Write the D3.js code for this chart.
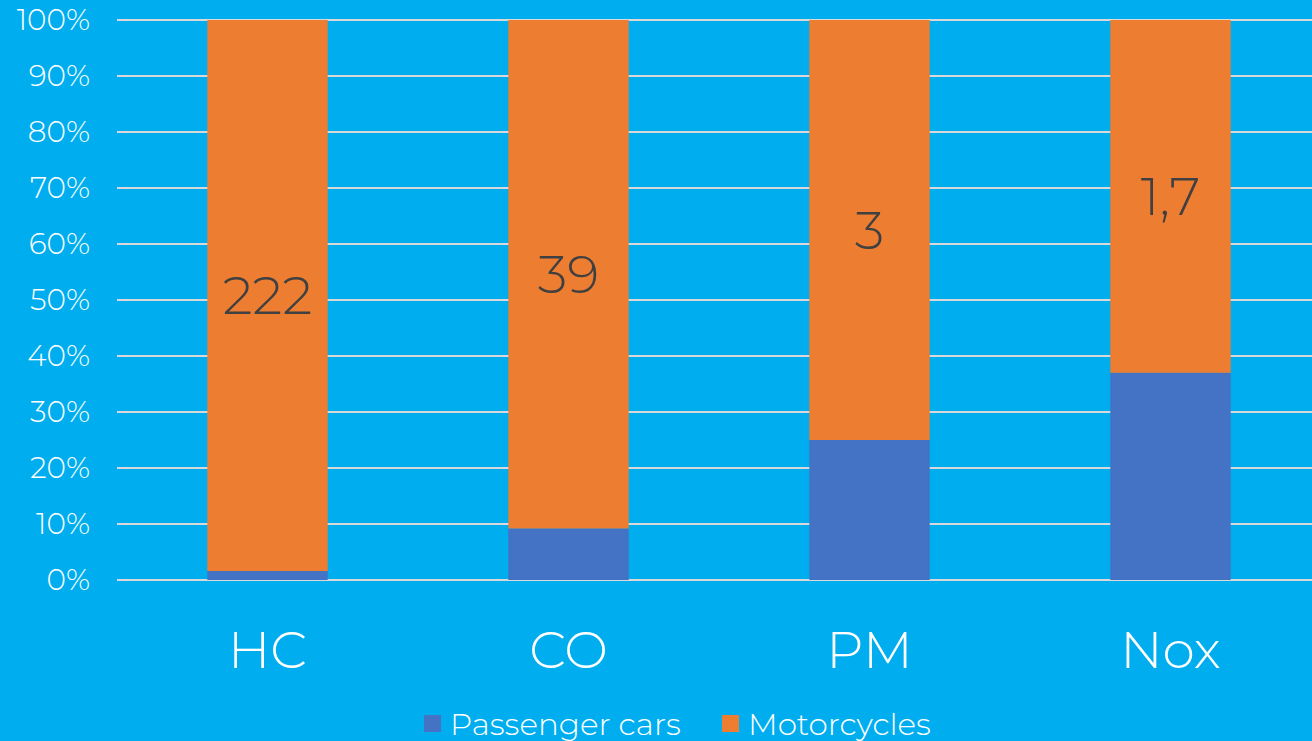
<!DOCTYPE html>
<html><head><meta charset="utf-8">
<script src="https://cdn.jsdelivr.net/npm/d3@7"></script>
<style>html,body{margin:0;padding:0;background:#00AEEF;}svg{display:block;}</style>
</head><body>
<script>
const categories = ["HC", "CO", "PM", "Nox"];
const passengerCars = [1.6, 9.2, 25, 37];
const motorcycles = [98.4, 90.8, 75, 63];
const ratioLabels = ["222", "39", "3", "1,7"];
const yTicks = [0, 10, 20, 30, 40, 50, 60, 70, 80, 90, 100];
const seriesNames = ["Passenger cars", "Motorcycles"];
const colors = ["#4472C4", "#ED7D31"];

const W = 1312, H = 741;
const svg = d3.select("body").append("svg").attr("width", W).attr("height", H);
svg.append("rect").attr("width", W).attr("height", H).attr("fill", "#00AEEF");

const font = "Montserrat, 'DejaVu Sans', sans-serif";
const x = d3.scaleBand().domain(categories).range([117, 1321]).paddingInner(0.6).paddingOuter(0.3);
const y = d3.scaleLinear().domain([0, 100]).range([580, 20]);

// gridlines
svg.append("g").selectAll("line").data(yTicks).join("line")
  .attr("x1", 117).attr("x2", W).attr("y1", d => y(d)).attr("y2", d => y(d))
  .attr("stroke", "#D9D9D9").attr("stroke-width", 2);

// y labels
svg.append("g").selectAll("text").data(yTicks).join("text")
  .attr("x", 90).attr("y", d => y(d)).attr("dy", "0.35em")
  .attr("text-anchor", "end").attr("fill", "#fff")
  .attr("font-family", font).attr("font-weight", 300).attr("font-size", 29.5)
  .text(d => d + "%");

const data = categories.map((c, i) => ({cat: c, pc: passengerCars[i], mc: motorcycles[i], lab: ratioLabels[i]}));
const stack = d3.stack().keys(["pc", "mc"])(data);

svg.append("g").selectAll("g").data(stack).join("g")
  .attr("fill", (d, i) => colors[i])
  .selectAll("rect").data(d => d).join("rect")
  .attr("x", d => x(d.data.cat)).attr("width", x.bandwidth())
  .attr("y", d => y(d[1])).attr("height", d => y(d[0]) - y(d[1]));

// data labels centered in motorcycle segment
svg.append("g").selectAll("text").data(stack[1]).join("text")
  .attr("x", d => x(d.data.cat) + x.bandwidth() / 2)
  .attr("y", d => y((d[0] + d[1]) / 2)).attr("dy", "0.35em")
  .attr("text-anchor", "middle").attr("fill", "#404040")
  .attr("font-family", font).attr("font-weight", 300).attr("font-size", 53)
  .text(d => d.data.lab);

// category labels
svg.append("g").selectAll("text").data(categories).join("text")
  .attr("x", d => x(d) + x.bandwidth() / 2).attr("y", 650).attr("dy", "0.35em")
  .attr("text-anchor", "middle").attr("fill", "#fff")
  .attr("font-family", font).attr("font-weight", 300).attr("font-size", 52)
  .text(d => d);

// legend
const legendItems = [{name: seriesNames[0], color: colors[0], x: 424}, {name: seriesNames[1], color: colors[1], x: 722}];
const lg = svg.append("g").selectAll("g").data(legendItems).join("g");
lg.append("rect").attr("x", d => d.x).attr("y", 715).attr("width", 17).attr("height", 17).attr("fill", d => d.color);
lg.append("text").attr("x", d => d.x + 26).attr("y", 724).attr("dy", "0.35em")
  .attr("fill", "#fff").attr("font-family", font).attr("font-weight", 300).attr("font-size", 31)
  .text(d => d.name);
</script>
</body></html>
